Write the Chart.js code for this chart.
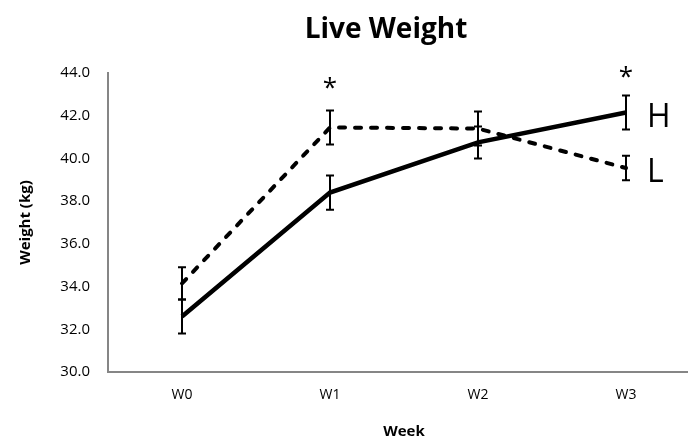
<!DOCTYPE html>
<html>
<head>
<meta charset="utf-8">
<script src="https://cdn.jsdelivr.net/npm/chart.js@4"></script>
<style>
  html, body { margin: 0; padding: 0; background: #fff; overflow: hidden; }
  #wrap { width: 688px; height: 441px; overflow: hidden; }
</style>
</head>
<body>
<div id="wrap"><canvas id="weightChart" width="700" height="441"></canvas></div>
<script>
// chart data
const weeks = ['W0', 'W1', 'W2', 'W3'];
const seriesNames = ['H', 'L'];
const hValues = [32.6, 38.4, 40.75, 42.15];
const hErrors = [0.8, 0.8, 0.75, 0.8];
const lValues = [34.15, 41.45, 41.4, 39.55];
const lErrors = [0.75, 0.8, 0.8, 0.57];
const starWeeks = ['W1', 'W3'];
const starValues = [43.5, 44.0];
const yMin = 30, yMax = 44, yStep = 2;

const titleText = 'Live Weight';
const FONT = "'Open Sans', 'DejaVu Sans', sans-serif";

// error bars, stars, series labels and the title
const extrasPlugin = {
    id: 'extras',
    afterDatasetsDraw(chart) {
        const ctx = chart.ctx;
        const xs = chart.scales.x, ys = chart.scales.y;
        const sets = [[hValues, hErrors], [lValues, lErrors]];

        ctx.save();
        ctx.strokeStyle = '#000';
        ctx.lineWidth = 2;
        sets.forEach(([vals, errs]) => {
            vals.forEach((v, i) => {
                const px = xs.getPixelForValue(i);
                const top = ys.getPixelForValue(v + errs[i]);
                const bot = ys.getPixelForValue(v - errs[i]);
                ctx.beginPath();
                ctx.moveTo(px, top); ctx.lineTo(px, bot);
                ctx.moveTo(px - 4, top); ctx.lineTo(px + 4, top);
                ctx.moveTo(px - 4, bot); ctx.lineTo(px + 4, bot);
                ctx.stroke();
            });
        });

        // significance stars
        ctx.fillStyle = '#000';
        ctx.font = '26px ' + FONT;
        ctx.textAlign = 'center';
        ctx.textBaseline = 'middle';
        starWeeks.forEach((w, i) => {
            const px = xs.getPixelForValue(weeks.indexOf(w));
            const py = ys.getPixelForValue(starValues[i]);
            ctx.fillText('*', px, py + 5);
        });

        // series labels at the end of each line
        ctx.font = '32px ' + FONT;
        ctx.textAlign = 'left';
        const last = weeks.length - 1;
        [hValues, lValues].forEach((vals, k) => {
            const px = xs.getPixelForValue(last);
            const py = ys.getPixelForValue(vals[last]);
            ctx.fillText(seriesNames[k], px + 21, py + 5);
        });

        // chart title
        ctx.font = 'bold 28px ' + FONT;
        ctx.textAlign = 'center';
        ctx.textBaseline = 'alphabetic';
        ctx.fillText(titleText, 386, 38);
        ctx.restore();
    }
};

const ctx = document.getElementById('weightChart').getContext('2d');
new Chart(ctx, {
    type: 'line',
    data: {
        labels: weeks,
        datasets: [
            {
                label: seriesNames[0],
                data: hValues,
                borderColor: '#000',
                borderWidth: 4.5,
                pointRadius: 0,
                tension: 0
            },
            {
                label: seriesNames[1],
                data: lValues,
                borderColor: '#000',
                borderWidth: 4,
                borderDash: [6, 10],
                borderCapStyle: 'round',
                pointRadius: 0,
                tension: 0
            }
        ]
    },
    options: {
        responsive: false,
        animation: false,
        layout: { padding: { top: 73, left: 0, right: 0, bottom: 0 } },
        plugins: {
            legend: { display: false },
            tooltip: { enabled: false }
        },
        scales: {
            x: {
                offset: true,
                grid: { display: false, drawTicks: false },
                border: { display: true, color: '#868686', width: 2 },
                ticks: { color: '#000', padding: 15, font: { family: FONT, size: 14 } },
                title: {
                    display: true, text: 'Week', color: '#000',
                    padding: { top: 0, bottom: 0 },
                    font: { family: FONT, size: 15, weight: 'bold' }
                },
                afterFit(scale) { scale.height = 69; }
            },
            y: {
                min: yMin,
                max: yMax,
                grid: { display: false, drawTicks: false },
                border: { display: true, color: '#868686', width: 2 },
                ticks: {
                    stepSize: yStep, color: '#000', padding: 18,
                    font: { family: FONT, size: 15 },
                    callback: v => v.toFixed(1)
                },
                title: {
                    display: true, text: 'Weight (kg)', color: '#000',
                    padding: { top: 17, bottom: 0 },
                    font: { family: FONT, size: 15, weight: 'bold' }
                },
                afterFit(scale) { scale.width = 108; }
            }
        }
    },
    plugins: [extrasPlugin]
});
</script>
</body>
</html>
